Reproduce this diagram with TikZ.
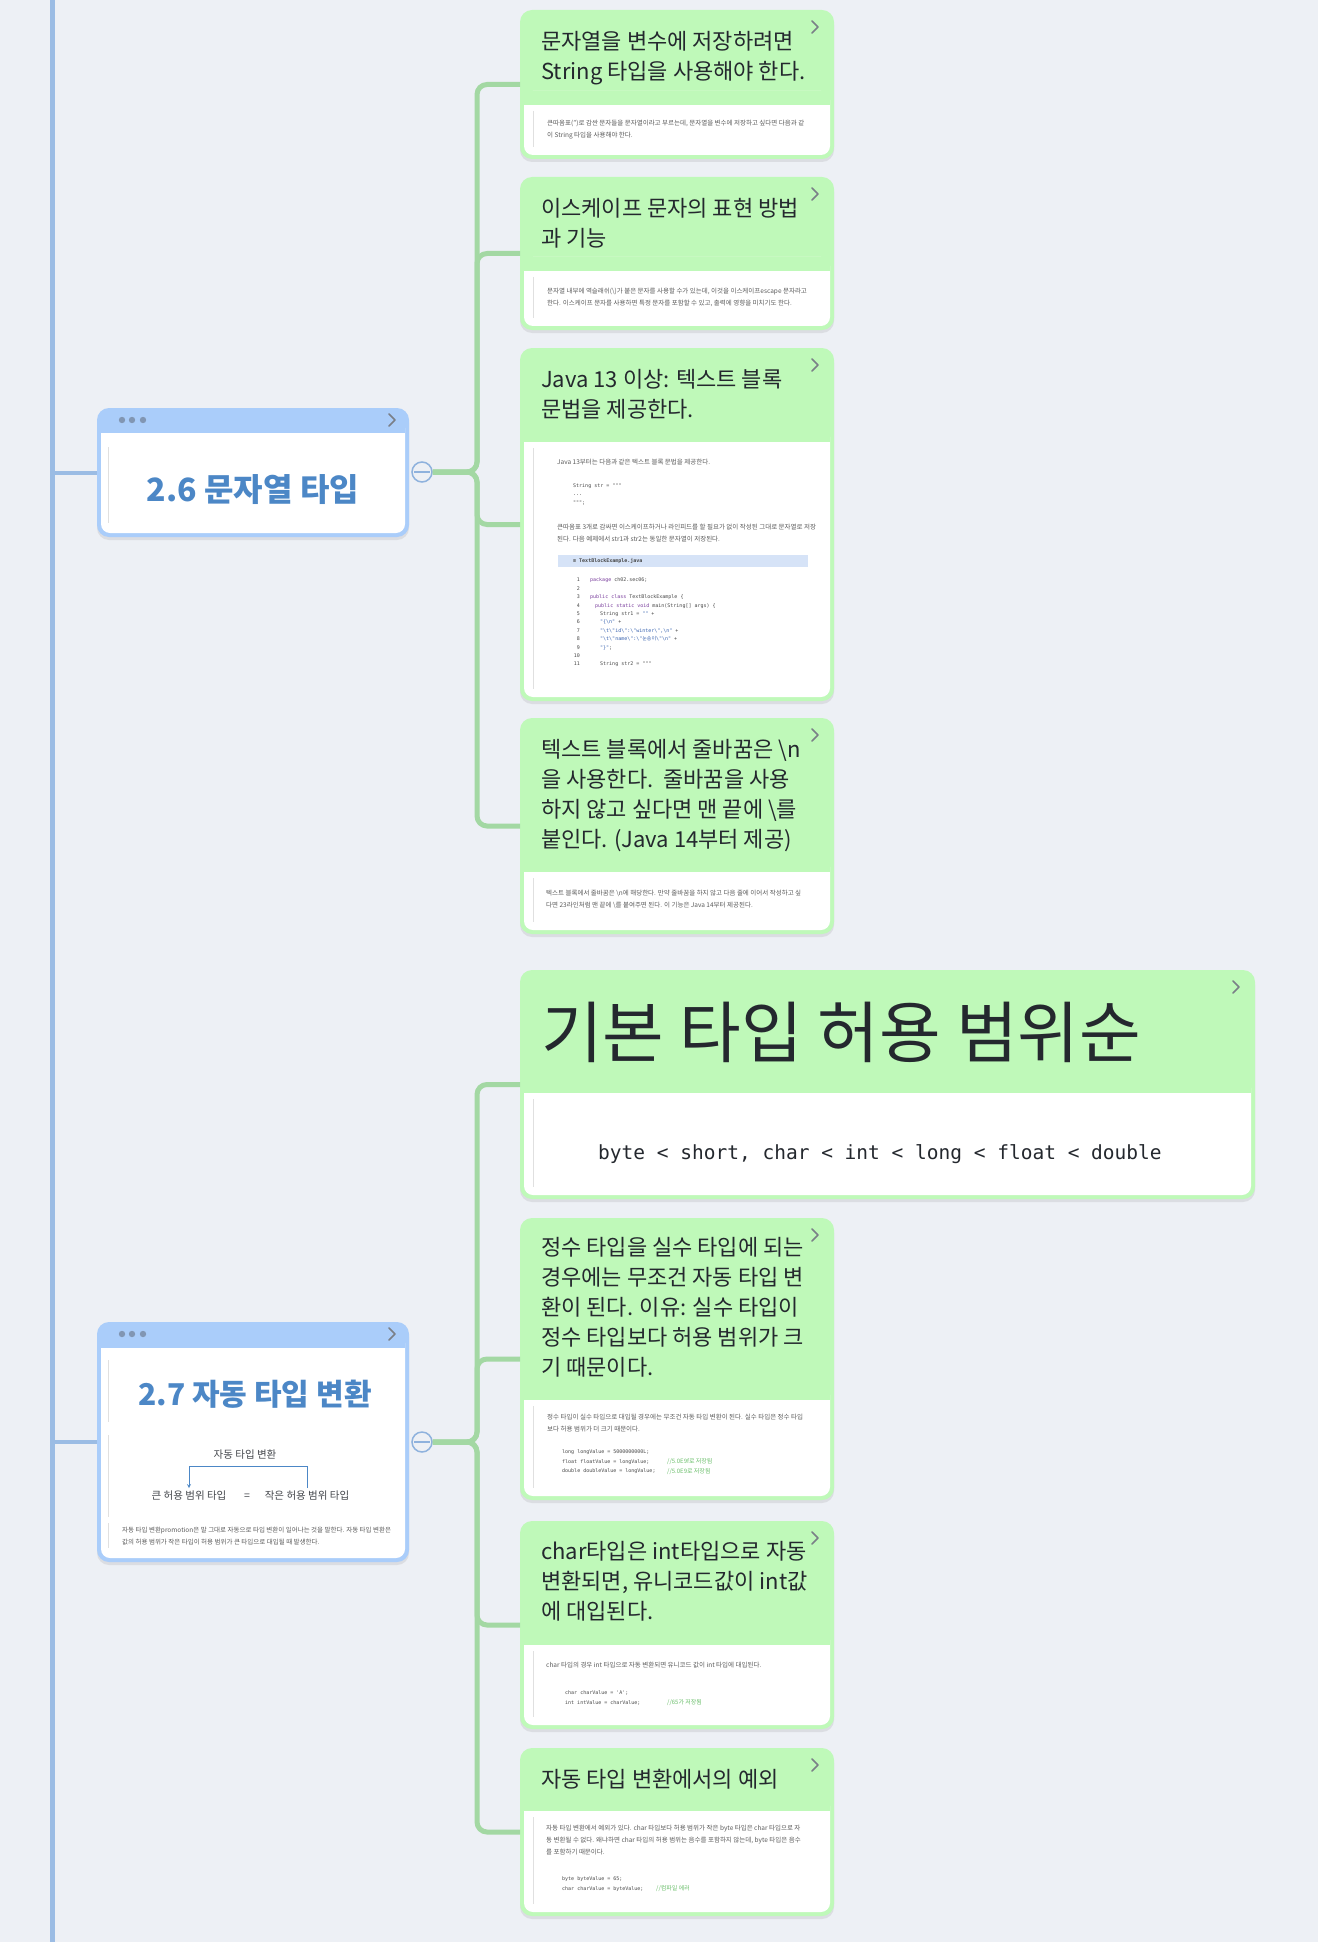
\documentclass[tikz,border=0pt]{standalone}
\usepackage{fontspec}
\setmainfont{Noto Sans CJK KR}
\setmonofont{DejaVu Sans Mono}
\usetikzlibrary{arrows,shadows,calc}

\definecolor{paper}{HTML}{EDF0F5}
\definecolor{cardgreen}{HTML}{BFF9B9}
\definecolor{linkgreen}{HTML}{A3D8A3}
\definecolor{headblue}{HTML}{AACDFA}
\definecolor{titleblue}{HTML}{4C87C6}
\definecolor{spineblue}{HTML}{9BBCE4}
\definecolor{toggleblue}{HTML}{8FB2DD}
\definecolor{ink}{HTML}{24282E}
\definecolor{notegray}{HTML}{5A5A5A}
\definecolor{chevgray}{HTML}{7A7F87}
\definecolor{dotgray}{HTML}{8196B3}
\definecolor{kw}{HTML}{7A3E9D}
\definecolor{str}{HTML}{3A64B0}
\definecolor{remarkgreen}{HTML}{6CBF6C}
\definecolor{filebar}{HTML}{D6E3F7}

\tikzset
{
    card/.style = {rectangle, rounded corners=12pt, fill=cardgreen, anchor=north west, inner sep=0pt, outer sep=0pt, drop shadow={shadow xshift=0pt, shadow yshift=-3pt, opacity=0.16}},
    section/.style = {rectangle, rounded corners=12pt, fill=headblue, anchor=north west, inner sep=0pt, outer sep=0pt, drop shadow={shadow xshift=0pt, shadow yshift=-3pt, opacity=0.16}},
    cardtitle/.style = {anchor=north west, inner sep=0pt, align=left, text=ink, font=\fontsize{22}{30}\selectfont},
    sectiontitle/.style = {anchor=base, inner sep=0pt, text=titleblue, font=\fontsize{32}{36}\selectfont\bfseries},
    note/.style = {anchor=north west, inner sep=0pt, align=left, text=notegray, font=\fontsize{6.5}{12}\selectfont},
    listing/.style = {anchor=north west, inner sep=0pt, align=left, text=notegray!80!black, font=\ttfamily\fontsize{5}{9.5}\selectfont},
    remark/.style = {anchor=north west, inner sep=0pt, align=left, text=remarkgreen, font=\fontsize{6}{9.5}\selectfont},
    label/.style = {anchor=base, inner sep=2pt, text=ink!85, font=\fontsize{10.5}{12}\selectfont},
    branch/.style = {draw=linkgreen, line width=5pt, rounded corners=10pt},
    spine/.style = {draw=spineblue, line width=5pt},
    toggle/.style = {circle, draw=toggleblue, line width=1.5pt, fill=paper, minimum size=20pt, inner sep=0pt},
    chevron/.style = {draw=chevgray, line width=1.6pt, line cap=round, line join=round},
    guide/.style = {draw=black!12, line width=0.8pt},
    promote/.style = {draw=titleblue, line width=0.8pt, -stealth}
}

\begin{document}
\begin{tikzpicture}[x=1pt, y=-1pt]
\useasboundingbox (0,0) rectangle (1318,1942);
\fill[paper] (0,0) rectangle (1318,1942);

% left spine
\coordinate (spinetop) at (52,0);
\coordinate (spinebot) at (52,1942);
\draw[spine] (spinetop) -- (spinebot);

% section boxes
\node[section, minimum width=312pt, minimum height=129pt] (s26) at (97,408) {};
\fill[white, rounded corners=9pt] (101,419) rectangle (405,533);
\fill[headblue] (101,419) rectangle (405,433);
\node[section, minimum width=312pt, minimum height=240pt] (s27) at (97,1322) {};
\fill[white, rounded corners=9pt] (101,1334) rectangle (405,1558);
\fill[headblue] (101,1334) rectangle (405,1348);
\foreach \ya in {408,1322}
{
    \foreach \xd in {122,132,143}
        \fill[dotgray] (\xd,\ya+12) circle (3.2pt);
    \draw[chevron] (389,\ya+6) -- (395,\ya+12) -- (389,\ya+18);
}
\draw[spine, line width=4pt] (s26.west -| spinetop) -- (s26.west);
\draw[spine, line width=4pt] (s27.west -| spinetop) -- (s27.west);

\draw[guide] (108,447) -- (108,523);
\draw[guide] (108,1360) -- (108,1422);
\draw[guide] (108,1435) -- (108,1517);
\draw[guide] (108,1523) -- (108,1548);

\node[sectiontitle] (t26) at (253,501) {2.6 문자열 타입};
\node[sectiontitle, font=\fontsize{30}{36}\selectfont\bfseries] (t27) at (255,1405) {2.7 자동 타입 변환};

% promotion sketch in 2.7
\node[label] (auto) at (245,1458) {자동 타입 변환};
\node[label] (bigT) at (189,1499) {큰 허용 범위 타입};
\node[label] (eq) at (247,1499) {=};
\node[label] (smallT) at (307,1499) {작은 허용 범위 타입};
\draw[promote] (smallT.north) -- ++(0,-22) -| (bigT.north);
\node[note] (n27) at (122,1523.6) {\strut 자동 타입 변환promotion은 말 그대로 자동으로 타입 변환이 일어나는 것을 말한다. 자동 타입 변환은\\
값의 허용 범위가 작은 타입이 허용 범위가 큰 타입으로 대입될 때 발생한다.};

% green cards
\foreach \name/\xa/\ya/\xb/\yb/\yh in {c1/520/10/834/159/105, c2/520/177/834/330/271, c3/520/348/834/701/442, c4/520/718/834/934/872, c5/520/970/1255/1199/1093, c6/520/1218/834/1500/1400, c7/520/1521/834/1729/1645, c8/520/1748/834/1916/1811}
{
    \node[card, minimum width={(\xb-\xa)*1pt}, minimum height={(\yb-\ya)*1pt}] (\name) at (\xa,\ya) {};
    \fill[white, rounded corners=9pt] (\xa+4,\yh-14) rectangle (\xb-4,\yb-4);
    \fill[cardgreen] (\xa+4,\yh-14) rectangle (\xb-4,\yh);
    \draw[chevron] (\xb-22,\ya+11) -- (\xb-16,\ya+17) -- (\xb-22,\ya+23);
    \draw[guide] (\xa+13,\yh+6) -- (\xa+13,\yb-12);
}

% toggles and branches
\node[toggle] (k26) at (422,472) {};
\node[toggle] (k27) at (422,1442) {};
\draw[toggleblue, line width=1.5pt] ([xshift=3pt]k26.west) -- ([xshift=-3pt]k26.east);
\draw[toggleblue, line width=1.5pt] ([xshift=3pt]k27.west) -- ([xshift=-3pt]k27.east);
\coordinate (j26) at (477,472);
\coordinate (j27) at (477,1442);
\foreach \c in {c1,c2,c3,c4}
    \draw[branch] (k26.east) -- (j26) |- (\c.west);
\foreach \c in {c5,c6,c7,c8}
    \draw[branch] (k27.east) -- (j27) |- (\c.west);

% card 1
\node[cardtitle] (h1) at (541,28) {\strut 문자열을 변수에 저장하려면\\String 타입을 사용해야 한다.};
\node[note] (n1) at (547,116.6) {\strut 큰따옴표(")로 감싼 문자들을 문자열이라고 부르는데, 문자열을 변수에 저장하고 싶다면 다음과 같\\
이 String 타입을 사용해야 한다.};

% card 2
\node[cardtitle] (h2) at (541,195) {\strut 이스케이프 문자의 표현 방법\\과 기능};
\node[note] (n2) at (547,284.6) {\strut 문자열 내부에 역슬래쉬(\textbackslash)가 붙은 문자를 사용할 수가 있는데, 이것을 이스케이프escape 문자라고\\
한다. 이스케이프 문자를 사용하면 특정 문자를 포함할 수 있고, 출력에 영향을 미치기도 한다.};

% card 3
\node[cardtitle] (h3) at (541,366) {\strut Java 13 이상: 텍스트 블록\\문법을 제공한다.};
\node[note] (n3a) at (557,455.6) {\strut Java 13부터는 다음과 같은 텍스트 블록 문법을 제공한다.};
\node[listing, font=\ttfamily\fontsize{5}{8.5}\selectfont] (s3a) at (573,481) {\strut String str = """\\...\\""";};
\node[note] (n3b) at (557,520.6) {\strut 큰따옴표 3개로 감싸면 이스케이프하거나 라인피드를 할 필요가 없이 작성된 그대로 문자열로 저장\\
된다. 다음 예제에서 str1과 str2는 동일한 문자열이 저장된다.};
\fill[filebar] (558,555) rectangle (808,567);
\node[listing, anchor=base west, font=\ttfamily\bfseries\fontsize{5}{8.4}\selectfont] (file3) at (573,562.8) {≡ TextBlockExample.java};
\foreach \i in {1,...,11}
    \node[listing, anchor=base east, font=\ttfamily\fontsize{5}{8.4}\selectfont] at (580,{581.8+8.4*(\i-1)}) {\i};
\node[listing, font=\ttfamily\fontsize{5}{8.4}\selectfont] (s3b) at (590,575.8) {\strut\textcolor{kw}{package} ch02.sec06;\\
\mbox{}\\
\textcolor{kw}{public class} TextBlockExample \{\\
\hspace*{5pt}\textcolor{kw}{public static void} main(String[] args) \{\\
\hspace*{10pt}String str1 = \textcolor{str}{""} +\\
\hspace*{10pt}\textcolor{str}{"\{\textbackslash n"} +\\
\hspace*{10pt}\textcolor{str}{"\textbackslash t\textbackslash "id\textbackslash ":\textbackslash "winter\textbackslash ",\textbackslash n"} +\\
\hspace*{10pt}\textcolor{str}{"\textbackslash t\textbackslash "name\textbackslash ":\textbackslash "{\rmfamily 눈송이}\textbackslash "\textbackslash n"} +\\
\hspace*{10pt}\textcolor{str}{"\}"};\\
\mbox{}\\
\hspace*{10pt}String str2 = """};

% card 4
\node[cardtitle] (h4) at (541,736) {\strut 텍스트 블록에서 줄바꿈은 \textbackslash n\\을 사용한다.\ \ 줄바꿈을 사용\\하지 않고 싶다면 맨 끝에 \textbackslash 를\\붙인다. (Java 14부터 제공)};
\node[note] (n4) at (546,886.6) {\strut 텍스트 블록에서 줄바꿈은 \textbackslash n에 해당한다. 만약 줄바꿈을 하지 않고 다음 줄에 이어서 작성하고 싶\\
다면 23라인처럼 맨 끝에 \textbackslash 를 붙여주면 된다. 이 기능은 Java 14부터 제공된다.};

% card 5
\node[anchor=base west, inner sep=0pt, text=ink, font=\fontsize{67}{80}\selectfont] (h5) at (541,1057) {기본 타입 허용 범위순};
\node[anchor=base west, inner sep=0pt, text=ink, font=\ttfamily\fontsize{19.5}{24}\selectfont] (s5) at (598,1159) {byte < short, char < int < long < float < double};

% card 6
\node[cardtitle] (h6) at (541,1234) {\strut 정수 타입을 실수 타입에 되는\\경우에는 무조건 자동 타입 변\\환이 된다. 이유: 실수 타입이\\정수 타입보다 허용 범위가 크\\기 때문이다.};
\node[note] (n6) at (547,1410.6) {\strut 정수 타입이 실수 타입으로 대입될 경우에는 무조건 자동 타입 변환이 된다. 실수 타입은 정수 타입\\
보다 허용 범위가 더 크기 때문이다.};
\node[listing] (s6) at (562,1447) {\strut long longValue = 5000000000L;\\float floatValue = longValue;\\double doubleValue = longValue;};
\node[remark] (r6) at (667,1457) {\strut //5.0E9f로 저장됨\\//5.0E9로 저장됨};

% card 7
\node[cardtitle] (h7) at (541,1538) {\strut char타입은 int타입으로 자동\\변환되면, 유니코드값이 int값\\에 대입된다.};
\node[note] (n7) at (546,1658.6) {\strut char 타입의 경우 int 타입으로 자동 변환되면 유니코드 값이 int 타입에 대입된다.};
\node[listing] (s7) at (565,1688) {\strut char charValue = 'A';\\int intValue = charValue;};
\node[remark] (r7) at (667,1698) {\strut //65가 저장됨};

% card 8
\node[cardtitle] (h8) at (541,1766) {\strut 자동 타입 변환에서의 예외};
\node[note] (n8) at (546,1821.6) {\strut 자동 타입 변환에서 예외가 있다. char 타입보다 허용 범위가 작은 byte 타입은 char 타입으로 자\\
동 변환될 수 없다. 왜냐하면 char 타입의 허용 범위는 음수를 포함하지 않는데, byte 타입은 음수\\
를 포함하기 때문이다.};
\node[listing] (s8) at (562,1874) {\strut byte byteValue = 65;\\char charValue = byteValue;};
\node[remark] (r8) at (656,1883.5) {\strut //컴파일 에러};
\end{tikzpicture}
\end{document}
